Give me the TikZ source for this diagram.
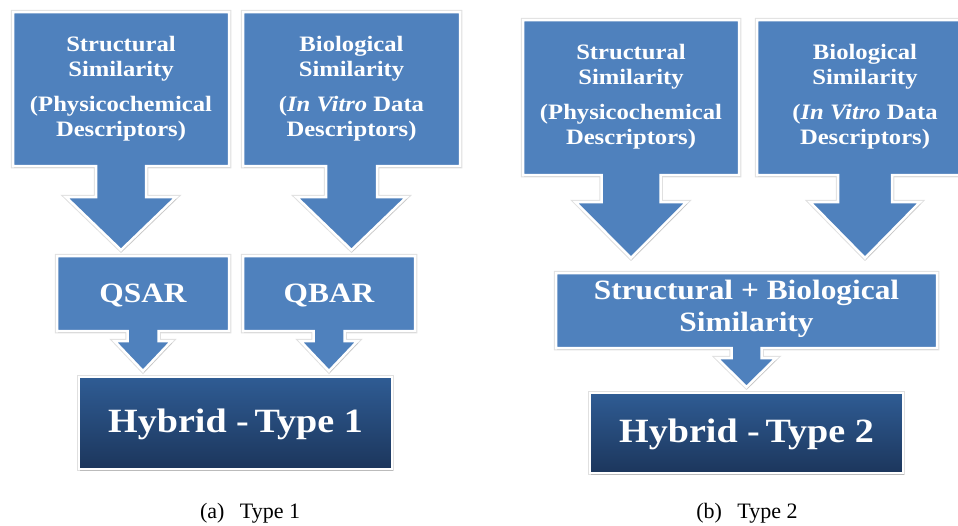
\documentclass[tikz,border=0pt]{standalone}
\usepackage{fontspec}
\setmainfont{Liberation Serif}
\newfontfamily\boxfont[FakeStretch=1.12]{Liberation Serif}
\usetikzlibrary{shadows}
\definecolor{calloutblue}{HTML}{4F81BD}
\definecolor{hybridtop}{HTML}{2F5C94}
\definecolor{hybridbottom}{HTML}{1C365C}
\tikzset{
  softshadow/.style={drop shadow={opacity=0.3, fill=black!60, shadow xshift=1pt, shadow yshift=-1.5pt}},
  rim/.style={preaction={draw=black!12, line width=4.5pt}},
  panel/.style={fill=calloutblue, rim, draw=white, line width=2.5pt, line join=miter, softshadow},
  hybridbox/.style={top color=hybridtop, bottom color=hybridbottom, rim, draw=white, line width=2.5pt, softshadow},
  boxtext/.style={text=white, align=center, inner sep=0pt},
  descfont/.style={font=\boxfont\bfseries\fontsize{22}{25}\selectfont},
  modelfont/.style={font=\boxfont\bfseries\fontsize{28}{32}\selectfont},
  hybridfont/.style={font=\boxfont\bfseries\fontsize{34}{40}\selectfont},
  captiontext/.style={font=\fontsize{22}{26}\selectfont, inner sep=0pt, anchor=base}
}
% Box with a downward arrow below it:
% #1,#2 left/right x, #3,#4 top/bottom y, #5 stem half width,
% #6 y where the head starts, #7 head half width, #8 tip y
\newcommand\downcallout[8]{%
  \pgfmathsetmacro\cx{(#1+#2)/2}%
  \path[panel] (#1,#3) -- (#2,#3) -- (#2,#4) -- (\cx+#5,#4) -- (\cx+#5,#6)
    -- (\cx+#7,#6) -- (\cx,#8) -- (\cx-#7,#6) -- (\cx-#5,#6) -- (\cx-#5,#4)
    -- (#1,#4) -- cycle;}
\begin{document}
\begin{tikzpicture}[x=1pt,y=-1pt]
\useasboundingbox (0,0) rectangle (958,525);
\begin{scope}
\clip (0,0) rectangle (958,525);

% ---- (a) Type 1 ----
\downcallout{13}{229}{12}{166}{25}{197}{55}{250}
\downcallout{243}{460}{12}{166}{25.5}{197}{55}{250}
\node[boxtext, descfont] (structA) at (121,89)
  {Structural\\Similarity\\[10pt](Physicochemical\\Descriptors)};
\node[boxtext, descfont] (bioA) at (351.5,89)
  {Biological\\Similarity\\[10pt](\textit{In Vitro} Data\\Descriptors)};

\downcallout{57}{229}{256}{331}{15.5}{341}{28.5}{371}
\downcallout{243}{415}{256}{331}{15.5}{341}{28.5}{371}
\node[boxtext, modelfont, anchor=base] (qsar) at (143,302) {QSAR};
\node[boxtext, modelfont, anchor=base] (qbar) at (329,302) {QBAR};

\path[hybridbox] (79,377) rectangle (392,469);
\node[boxtext, hybridfont, anchor=base] (hybridA) at (235.5,432) {Hybrid -\,Type 1};

\node[captiontext] (capA) at (250,518) {(a)\hspace{0.7em}Type 1};

% ---- (b) Type 2 ----
\downcallout{523}{739}{20}{175}{29.5}{202}{55.5}{258}
\downcallout{757}{973}{20}{175}{27}{202}{55}{258}
\node[boxtext, descfont] (structB) at (631,97)
  {Structural\\Similarity\\[10pt](Physicochemical\\Descriptors)};
\node[boxtext, descfont] (bioB) at (865,97)
  {Biological\\Similarity\\[10pt](\textit{In Vitro} Data\\Descriptors)};

\downcallout{556}{937}{273}{348}{15}{358}{29.5}{387}
\node[boxtext, modelfont] (combined) at (746.5,309)
  {Structural + Biological\\Similarity};

\path[hybridbox] (590,393) rectangle (903,473);
\node[boxtext, hybridfont, anchor=base] (hybridB) at (746.5,442) {Hybrid -\,Type 2};

\node[captiontext] (capB) at (747,518) {(b)\hspace{0.7em}Type 2};
\end{scope}
\end{tikzpicture}
\end{document}
